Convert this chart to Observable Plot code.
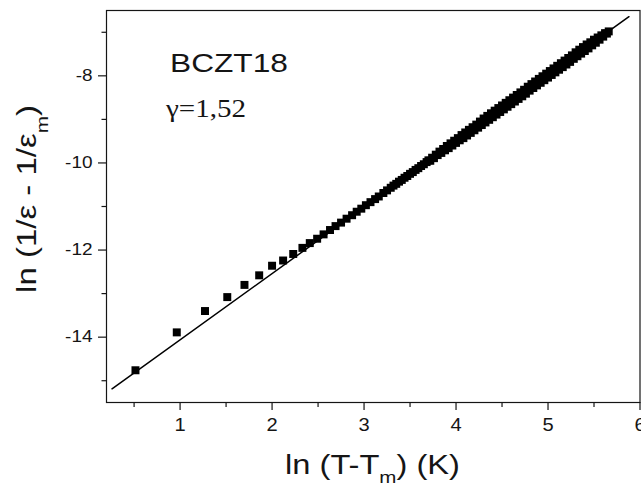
<!DOCTYPE html>
<html>
<head>
<meta charset="utf-8">
<script src="https://cdn.jsdelivr.net/npm/d3@7"></script>
<script src="https://cdn.jsdelivr.net/npm/@observablehq/plot@0.6"></script>
<style>
  html, body { margin: 0; padding: 0; background: #fff; }
  #chart svg { display: block; }
</style>
</head>
<body>
<div id="chart"></div>
<script>
// ---- data ----
const lnDeltaT = [
  0.515, 0.964, 1.271, 1.513, 1.70, 1.86, 2.00, 2.12, 2.23, 2.33, 2.41, 2.49,
  2.56, 2.63, 2.69, 2.75, 2.81, 2.87, 2.92, 2.97, 3.02, 3.07, 3.12, 3.16,
  3.21, 3.25, 3.29, 3.32, 3.35, 3.38, 3.41, 3.44, 3.47, 3.50, 3.53, 3.56,
  3.59, 3.62, 3.65, 3.68,
  3.70, 3.72, 3.74, 3.76, 3.78, 3.80, 3.82, 3.84, 3.86, 3.88, 3.90, 3.92,
  3.94, 3.96, 3.98, 4.00, 4.02, 4.04, 4.06, 4.08, 4.10, 4.12, 4.14, 4.16,
  4.18, 4.20, 4.22, 4.24, 4.26, 4.28, 4.30, 4.32, 4.34, 4.36, 4.38, 4.40,
  4.42, 4.44, 4.46, 4.48, 4.50, 4.52, 4.54, 4.56, 4.58, 4.60, 4.62, 4.64,
  4.66, 4.68, 4.70, 4.72, 4.74, 4.76, 4.78, 4.80, 4.82, 4.84, 4.86, 4.88,
  4.90, 4.92, 4.94, 4.96, 4.98, 5.00, 5.02, 5.04, 5.06, 5.08, 5.10, 5.12,
  5.14, 5.16, 5.18, 5.20, 5.22, 5.24, 5.26, 5.28, 5.30, 5.32, 5.34, 5.36,
  5.38, 5.40, 5.42, 5.44, 5.46, 5.48, 5.50, 5.52, 5.54, 5.56, 5.58, 5.60,
  5.62, 5.64, 5.66
];
const lnInvEps = [
  -14.76, -13.89, -13.40, -13.08, -12.80, -12.58, -12.36, -12.24, -12.09, -11.95, -11.84, -11.74,
  -11.64, -11.54, -11.45, -11.37, -11.28, -11.20, -11.12, -11.05, -10.97, -10.90, -10.83, -10.77,
  -10.69, -10.63, -10.57, -10.52, -10.48, -10.43, -10.39, -10.34, -10.30, -10.25, -10.21, -10.16,
  -10.12, -10.07, -10.03, -9.98,
  -9.94, -9.95, -9.88, -9.89, -9.81, -9.82, -9.74, -9.77, -9.68, -9.71, -9.61, -9.66,
  -9.55, -9.60, -9.49, -9.54, -9.43, -9.48, -9.36, -9.43, -9.30, -9.37, -9.24, -9.31,
  -9.18, -9.25, -9.12, -9.19, -9.05, -9.13, -8.98, -9.07, -8.92, -9.01, -8.86, -8.95,
  -8.80, -8.89, -8.74, -8.83, -8.68, -8.77, -8.62, -8.71, -8.56, -8.65, -8.50, -8.59,
  -8.44, -8.53, -8.38, -8.47, -8.32, -8.41, -8.25, -8.34, -8.19, -8.28, -8.13, -8.22,
  -8.07, -8.16, -8.01, -8.10, -7.95, -8.04, -7.89, -7.98, -7.83, -7.92, -7.77, -7.86,
  -7.71, -7.80, -7.65, -7.74, -7.59, -7.68, -7.53, -7.61, -7.46, -7.55, -7.40, -7.49,
  -7.34, -7.43, -7.28, -7.37, -7.23, -7.30, -7.17, -7.24, -7.12, -7.17, -7.07, -7.10,
  -7.02, -7.03, -6.98
];
// linear fit (slope gamma = 1.52)
const fitX = [0.26, 5.88];
const fitY = [-15.185, -6.642];

const xMajorTicks = [1, 2, 3, 4, 5, 6];
const xMinorTicks = [0.5, 1.5, 2.5, 3.5, 4.5, 5.5];
const yMajorTicks = [-14, -12, -10, -8];
const yMinorTicks = [-15, -13, -11, -9, -7];

const sampleLabel = "BCZT18";
const gammaLabel = "γ=1,52";

// ---- tables built from the arrays ----
const points = lnDeltaT.map((x, i) => ({x, y: lnInvEps[i]}));
const fit = fitX.map((x, i) => ({x, y: fitY[i]}));

const INK = "#151515";
const SANS = "'Liberation Sans', Arial, sans-serif";
const SERIF = "'Liberation Serif', 'Times New Roman', serif";

const plot = Plot.plot({
  width: 641,
  height: 486,
  marginLeft: 106,
  marginTop: 10,
  marginRight: 1.5,
  marginBottom: 84,
  style: {fontFamily: SANS, color: INK, background: "#fff", overflow: "visible"},
  x: {domain: [0.2, 6]},
  y: {domain: [-15.5, -6.5]},
  marks: [
    Plot.frame({stroke: INK, strokeWidth: 1.2}),
    Plot.axisX(xMinorTicks, {tickSize: 5, tickFormat: () => "", label: null, strokeWidth: 1.2}),
    Plot.axisX(xMajorTicks, {tickSize: 8, tickPadding: 8, fontSize: 17.5, label: null, strokeWidth: 1.2, tickFormat: d => `${d}`}),
    Plot.axisY(yMinorTicks, {tickSize: 4.5, tickFormat: () => "", label: null, strokeWidth: 1.2}),
    Plot.axisY(yMajorTicks, {tickSize: 8, tickPadding: 6, fontSize: 16.5, label: null, strokeWidth: 1.2, tickFormat: d => `${d}`}),
    Plot.line(fit, {x: "x", y: "y", stroke: "#000", strokeWidth: 1.5}),
    Plot.dot(points, {x: "x", y: "y", symbol: "square", r: 4.5, fill: "#000", stroke: "none"})
  ]
});

document.getElementById("chart").appendChild(plot);

const svg = d3.select(plot);

// stretch tick labels along their writing direction (wide lettering in the original)
function stretchInPlace(el, s) {
  const x = +el.getAttribute("x") || 0;
  const t = el.getAttribute("transform") || "";
  el.setAttribute("transform", `${t} translate(${x},0) scale(${s},1) translate(${-x},0)`);
}
svg.selectAll("g[aria-label='x-axis tick label'] text").each(function() { stretchInPlace(this, 1.15); });
svg.selectAll("g[aria-label='y-axis tick label'] text").each(function() { stretchInPlace(this, 1.15); });

// helper: place a text at (x, y) with rotation, stretched to a target advance width
function placeText(node, x, y, rotate, anchor, targetWidth) {
  node.setAttribute("text-anchor", anchor);
  const w = node.getComputedTextLength();
  const s = targetWidth / w;
  node.setAttribute("transform", `translate(${x},${y}) rotate(${rotate}) scale(${s},1)`);
}

// annotations
const g = svg.append("g").attr("fill", INK);

const t1 = g.append("text").attr("font-family", SANS).attr("font-size", 25.5).text(sampleLabel).node();
placeText(t1, 170, 72, 0, "start", 118);

const t2 = g.append("text").attr("font-family", SERIF).attr("font-size", 26).text(gammaLabel).node();
placeText(t2, 166, 117, 0, "start", 80);

// x axis label: ln (T-T_m) (K)
const xl = g.append("text").attr("font-family", SANS).attr("font-size", 27);
xl.append("tspan").text("ln (T-T");
xl.append("tspan").attr("font-size", 17).attr("dy", 9).text("m");
xl.append("tspan").attr("dy", -9).text(") (K)");
placeText(xl.node(), 372.5, 474, 0, "middle", 175);

// y axis label: ln (1/ε - 1/ε_m)
const yl = g.append("text").attr("font-family", SANS).attr("font-size", 27);
yl.append("tspan").text("ln (1/ε - 1/ε");
yl.append("tspan").attr("font-size", 17).attr("dy", 12).text("m");
yl.append("tspan").attr("dy", -12).text(")");
placeText(yl.node(), 35.5, 199, -90, "middle", 188);
</script>
</body>
</html>
